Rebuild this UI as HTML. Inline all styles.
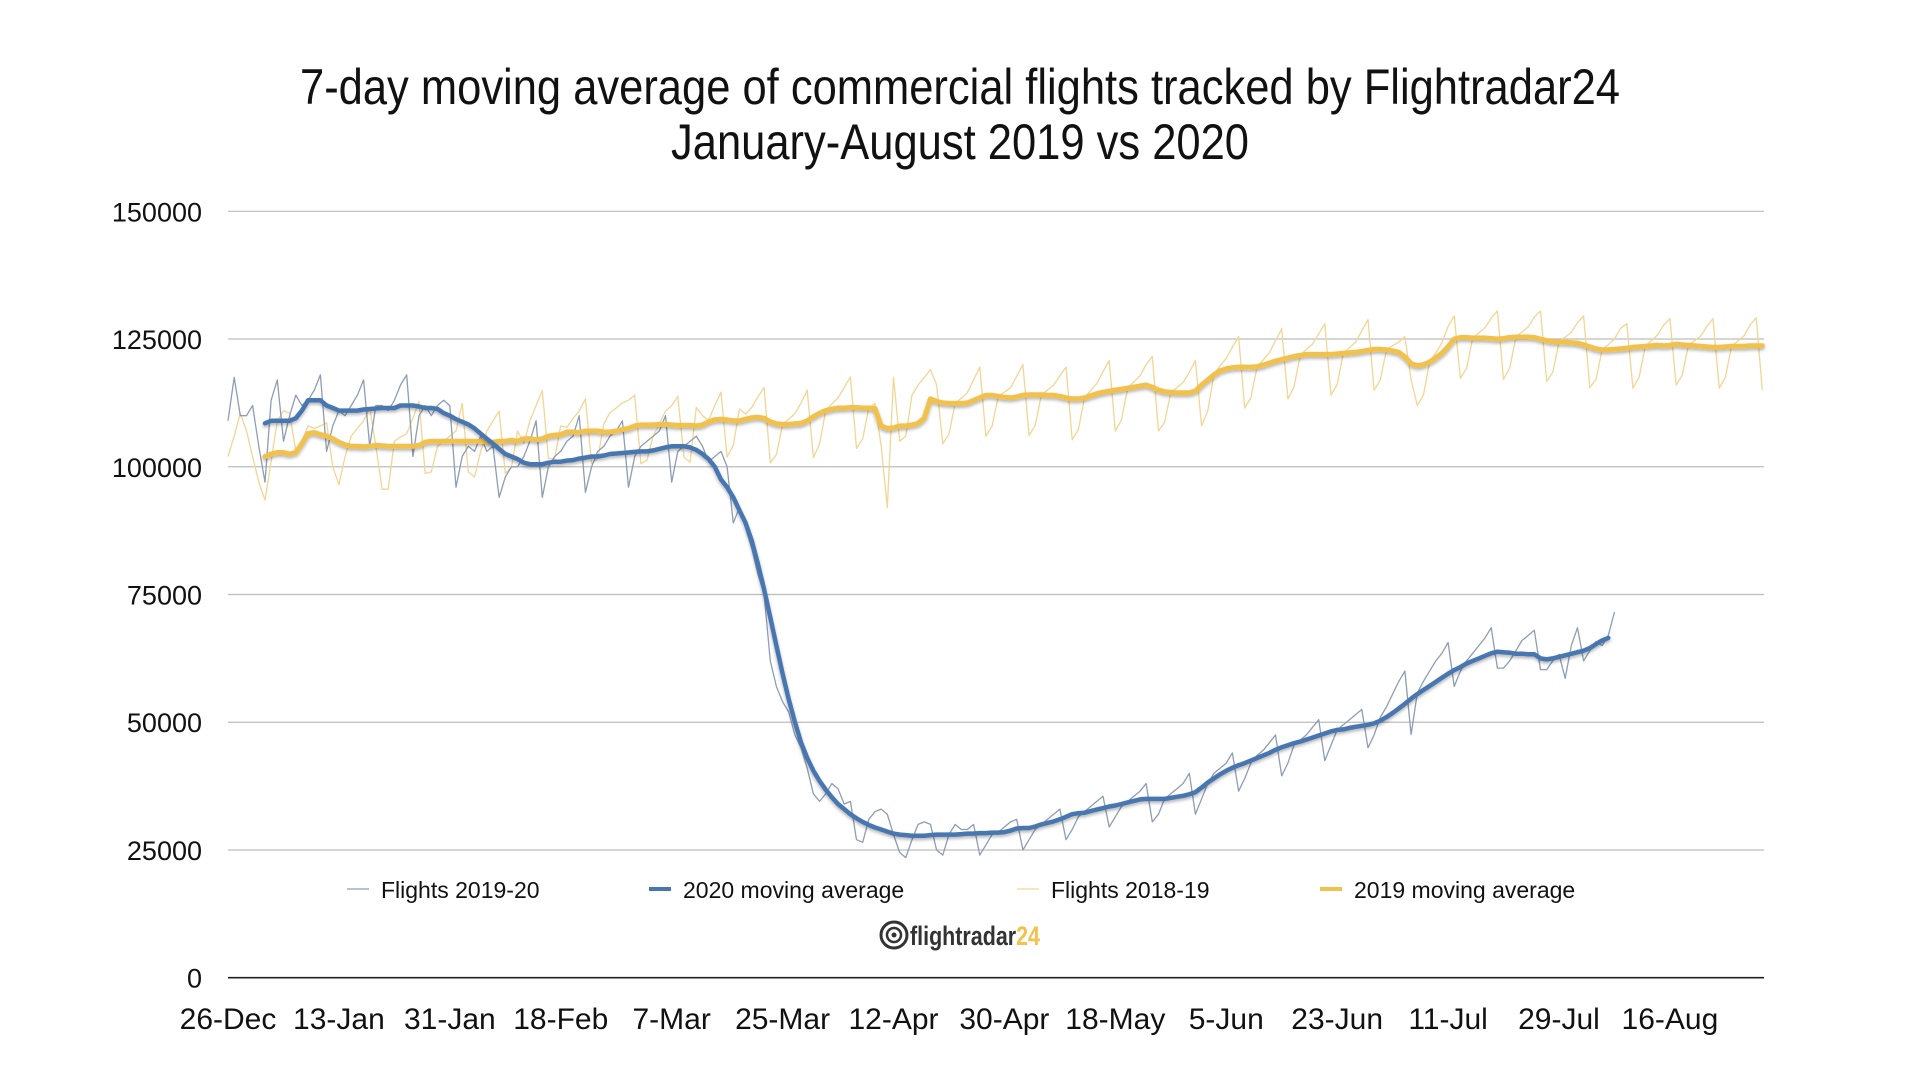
<!DOCTYPE html>
<html><head><meta charset="utf-8">
<style>
html,body{margin:0;padding:0;background:#fff;}
svg{display:block;}
text{font-family:"Liberation Sans",sans-serif;}
</style></head>
<body>
<svg id="chart" width="1920" height="1080" viewBox="0 0 1920 1080" xmlns="http://www.w3.org/2000/svg">
<defs>
<filter id="sh" x="-5%" y="-5%" width="110%" height="120%"><feDropShadow dx="0" dy="2" stdDeviation="1.5" flood-color="#000" flood-opacity="0.3"/></filter>
</defs>
<text x="960" y="104" text-anchor="middle" font-size="50" fill="#111" textLength="1320" lengthAdjust="spacingAndGlyphs" style="font-family:'Liberation Sans Narrow','Liberation Sans',sans-serif">7-day moving average of commercial flights tracked by Flightradar24</text>
<text x="960" y="159" text-anchor="middle" font-size="50" fill="#111" textLength="578" lengthAdjust="spacingAndGlyphs" style="font-family:'Liberation Sans Narrow','Liberation Sans',sans-serif">January-August 2019 vs 2020</text>
<g id="grid"></g>
<g id="yaxis"></g>
<g id="xaxis"></g>
<g id="series"></g>
<g id="legend"></g>
<g>
<circle cx="894" cy="935" r="13" fill="none" stroke="#333" stroke-width="3"/>
<circle cx="894" cy="935" r="7" fill="none" stroke="#333" stroke-width="2.5"/>
<circle cx="894" cy="935" r="2.5" fill="#333"/>
<text x="910" y="945" font-size="27" font-weight="bold" fill="#333" textLength="130" lengthAdjust="spacingAndGlyphs" style="font-family:'Liberation Sans Narrow','Liberation Sans',sans-serif">flightradar<tspan fill="#f2c14e">24</tspan></text>
</g>
</svg>
<script>
const yTicks = [0, 25000, 50000, 75000, 100000, 125000, 150000];
const xTickLabels = ["26-Dec","13-Jan","31-Jan","18-Feb","7-Mar","25-Mar","12-Apr","30-Apr","18-May","5-Jun","23-Jun","11-Jul","29-Jul","16-Aug"];
const xTickDays = [0,18,36,54,72,90,108,126,144,162,180,198,216,234];
const ma2020Start = 6;
const ma2019Start = 6;
// daily flights 2019-20 (thousands), day 0 = 26-Dec
const flights2020 = [
109,117.5,110,110,112,104,97,
113,117,105,110,114,112,113,
115,118,103,108,111,110,112,
114,117,104,112,112,111,113,
116,118,102,110,112,110,112,
113,112,96,102,104,103,106,
103,104,94,98,100,100,102,
105,109,94,100,102,103,105,
106,110,95,100,103,104,106,
107,109,96,102,104,105,106,
107,110,97,103,104,105,106,
104,101,102,103,100,89,92,
88,84,79,75,62,57,54,
52,47.5,45,41,36,34.5,36,
38,37,34,34.5,27,26.5,31,
32.5,33,32,28,24.5,23.5,27,
30,30.5,30,25,24,28,30,
29,29,30,24,26,28,28.5,
29.5,30.5,31,25,27,29,30,
31,32,33,27,29,31.5,32.5,
33.5,34.5,35.5,29.5,31.5,33.5,34.5,
35.5,36.5,38,30.5,32,35,36,
37,38,40,32,35,38,40,
41,42,44,36.5,39,42,43.5,
44.5,46,47.5,39.5,42,45.5,46.5,
47.5,49,50.5,42.5,45.5,48.5,49.5,
50.5,51.5,52.5,45,47.5,51,53,
55.5,58,60,47.6,55.7,58,60,
62,63.5,65.6,57,60,62,63.5,
65,66.5,68.5,60.6,60.6,62,64,
66,67,68,60.3,60.3,62,63.3,
58.6,65,68.5,62,64,65.8,65,
67,71.6];
// 2020 7-day moving average (thousands), starting day 6
const movingAvg2020 = [
108.5,109,109,109,109,109.5,111,
113,113,113,112,111.5,111,111,
111,111,111.2,111.3,111.4,111.5,111.5,
111.5,112,112,112,111.8,111.5,111.5,
111.3,110.5,110,109.3,108.8,108.3,107.5,
106.5,105.5,104.5,103.5,102.5,102,101.5,
100.8,100.5,100.5,100.5,100.8,101,101,
101.2,101.3,101.6,101.8,102,102,102.2,
102.5,102.6,102.7,102.8,102.9,103,103,
103.2,103.5,103.8,104,104,104,103.8,
103.3,102.5,101.5,100,97.5,96,94,
91.5,89,85.5,81,76,70.5,65,
59.5,54.5,50,46,43,40.5,38.5,
36.8,35.3,34,33,32,31.2,30.5,
29.9,29.4,29,28.6,28.2,28,27.9,
27.8,27.8,27.8,27.9,28,28,28,
28,28.1,28.2,28.2,28.3,28.3,28.4,
28.4,28.5,28.8,29.2,29.3,29.3,29.6,
30,30.3,30.6,31,31.5,32,32.2,
32.3,32.6,32.9,33.2,33.5,33.7,34,
34.3,34.6,34.9,35,35,35,35,
35.2,35.4,35.6,35.9,36.3,37.2,38.2,
39,39.8,40.5,41.1,41.6,42,42.5,
43,43.5,44,44.6,45.1,45.5,45.9,
46.2,46.6,47,47.4,47.8,48.2,48.5,
48.6,48.9,49.1,49.3,49.5,49.8,50.3,
51,51.8,52.7,53.6,54.6,55.5,56.3,
57.1,57.9,58.7,59.5,60.2,60.8,61.5,
62,62.5,63,63.5,63.8,63.7,63.6,
63.4,63.4,63.3,63.3,62.5,62.3,62.5,
62.8,63.1,63.4,63.7,64,64.5,65.3,
66,66.5];
// daily flights 2018-19 (thousands), day 0 = 26-Dec
const flights2019 = [
102,106,110.5,107,102,97,93.5,
101,109,111,110.5,103,105,108,
107.5,108,108.6,100,96.5,102,106,
107.5,109,111.5,104,95.6,95.6,105,
105.8,106.5,109.5,112.8,98.7,99,104,
105,106,107,112.4,99,98,103,
107,109,110.9,98.7,100,107,104.5,
109,112,114.9,101.6,101.6,108,107.7,
109.5,110.9,113.3,100.6,101.6,108.4,110.6,
111.5,112.5,113,114,100.6,101.3,106,
108.4,110.9,112,113.8,101.9,100.9,111.6,
110,109.1,112,114.6,101.9,104.2,111.3,
110.3,111.6,113.7,115.5,100.8,102.4,108.3,
109.3,110.4,112.5,115,101.8,104.5,111,
112.3,113.5,115.5,117.6,103.6,105.5,111.5,
112.4,104,92,117.5,105,106,114,
116,117.5,119,116,104.5,106.4,112.4,
113.4,114.5,117,119.5,106,108,113.8,
114.6,115.5,117.7,120,106.1,108.1,114.1,
115,116,117.8,119.5,105.3,107.3,113.5,
114.9,116.3,118.6,120.8,107,109.2,115.4,
116.6,117.8,120,121.6,107,108.7,114.6,
115.5,116.5,118.5,120.8,108,111,118,
119.8,121.2,123.4,125.5,111.5,113.5,119.6,
120.9,122.3,124.7,127,113.3,115.6,121.8,
123,124,126,128,114,116.1,122.2,
123.3,124.4,126.6,128.8,115,117,122.9,
123.7,124.4,125.5,117,112,114,120.5,
122.3,124.2,127.5,129.5,117.3,119.3,125.2,
126.2,127.2,129.1,130.5,117.1,119.3,125.4,
126.4,127.4,129.3,130.5,116.7,118.5,124.4,
125.4,126.3,128.2,129.5,115.5,117.1,122.9,
123.9,125,127.1,128,115.4,117.5,123.6,
124.7,125.8,127.7,129,116,117.9,123.8,
124.7,125.6,127.5,129,115.4,117.5,123.6,
124.6,125.6,127.7,129.2,115];
// 2019 7-day moving average (thousands), starting day 6
const movingAvg2019 = [
102,102.5,102.8,102.8,102.5,102.8,104.5,
106.5,106.7,106.3,106,105.5,104.8,104.3,
104,104,103.9,104,104.2,104.1,104,
104,104,104,104,104.2,104.8,105,
105,105,105,105,105,105,105,
105,104.9,104.8,105,105,105.2,105,
105.5,105.5,105.3,105.5,106,106.2,106.3,
106.8,106.8,106.7,107,107,107,106.8,
106.8,107,107.3,107.5,108,108.2,108.2,
108.2,108.3,108.3,108.2,108.1,108.1,108.1,
108,108.2,108.8,109.2,109.3,109.2,109,
109,109.3,109.6,109.7,109.5,108.8,108.4,
108.3,108.3,108.4,108.5,109,109.8,110.5,
111,111.3,111.5,111.5,111.6,111.6,111.5,
111.5,111.4,108,107.5,107.6,108,108,
108.2,108.5,109.5,113.3,112.8,112.5,112.4,
112.4,112.4,112.5,113,113.5,114,114,
113.8,113.6,113.5,113.7,114,114.1,114.1,
114.1,114,114,113.8,113.5,113.3,113.3,
113.5,113.9,114.3,114.6,114.8,115,115.2,
115.4,115.6,115.8,116,115.6,115,114.7,
114.6,114.5,114.5,114.5,114.8,116,117,
118,118.8,119.2,119.4,119.5,119.5,119.5,
119.6,119.9,120.3,120.7,121,121.3,121.6,
121.8,122,122,122,122,122,122.1,
122.2,122.3,122.4,122.6,122.8,123,123,
122.9,122.7,122.4,121.5,120.2,119.8,120,
120.5,121.3,122.2,123.5,125,125.3,125.3,
125.2,125.2,125.2,125.1,125,125.1,125.3,
125.4,125.4,125.4,125.3,125,124.7,124.5,
124.4,124.4,124.3,124.2,123.9,123.5,123.1,
122.9,122.9,123,123.1,123.2,123.4,123.5,
123.6,123.7,123.8,123.7,123.8,124,123.9,
123.8,123.7,123.6,123.5,123.4,123.4,123.5,
123.6,123.6,123.6,123.7,123.7,123.7];

const NS = "http://www.w3.org/2000/svg";
const X0 = 228, PX_PER_DAY = 6.162, XR = 1764;
const Y0 = 977.7, Y150 = 211.3;
function xs(d){ return X0 + d * PX_PER_DAY; }
function ys(v){ return Y0 - v / 150000 * (Y0 - Y150); }
function mk(tag, attrs, parent){
  const e = document.createElementNS(NS, tag);
  for (const k in attrs) e.setAttribute(k, attrs[k]);
  parent.appendChild(e);
  return e;
}
const grid = document.getElementById('grid');
const yaxis = document.getElementById('yaxis');
yTicks.forEach(function(t){
  const l = mk('line', {x1:X0, x2:XR, y1:ys(t), y2:ys(t), stroke: t===0 ? '#222' : '#bdbdbd', 'stroke-width': t===0 ? 1.6 : 1.2}, grid);
  
  
  const tx = mk('text', {x:202, y:ys(t)+10, 'text-anchor':'end', 'font-size':27, fill:'#111'}, yaxis);
  tx.textContent = String(t);
  
  
});
const xaxis = document.getElementById('xaxis');
xTickLabels.forEach(function(lab, i){
  const tx = mk('text', {x:xs(xTickDays[i]), y:1029, 'text-anchor':'middle', 'font-size':30, fill:'#111'}, xaxis);
  tx.textContent = lab;
  
  
});
function pathFor(arr, start){
  return arr.map(function(v, i){ return (i ? 'L' : 'M') + xs(start + i).toFixed(1) + ' ' + ys(v * 1000).toFixed(1); }).join(' ');
}
const series = document.getElementById('series');
const p1 = mk('path', {d:pathFor(flights2019, 0), fill:'none', stroke:'#f3d594', 'stroke-width':1.3, 'stroke-linejoin':'round'}, series);


const p2 = mk('path', {d:pathFor(flights2020, 0), fill:'none', stroke:'#8d9db3', 'stroke-width':1.3, 'stroke-linejoin':'round'}, series);


const p3 = mk('path', {d:pathFor(movingAvg2019, ma2019Start), fill:'none', stroke:'#f1c14c', 'stroke-width':5, 'stroke-linejoin':'round', 'stroke-linecap':'round', filter:'url(#sh)'}, series);


const p4 = mk('path', {d:pathFor(movingAvg2020, ma2020Start), fill:'none', stroke:'#4776b0', 'stroke-width':4.5, 'stroke-linejoin':'round', 'stroke-linecap':'round', filter:'url(#sh)'}, series);



const legendItems = ["Flights 2019-20","2020 moving average","Flights 2018-19","2019 moving average"];
const legendColors = ['#8d9db3','#4776b0','#f3d594','#f1c14c'];
const legendWidths = [1.3, 4, 1.3, 4];
const legendX = [347, 649, 1017, 1320];
const legend = document.getElementById('legend');
legendItems.forEach(function(name, i){
  const g = mk('g', {}, legend);
  
  
  mk('line', {x1:legendX[i], x2:legendX[i]+22, y1:889, y2:889, stroke:legendColors[i], 'stroke-width':legendWidths[i]}, g);
  const t = mk('text', {x:legendX[i]+34, y:898, 'font-size':23, fill:'#111'}, g);
  t.textContent = name;
});
</script>
</body></html>
